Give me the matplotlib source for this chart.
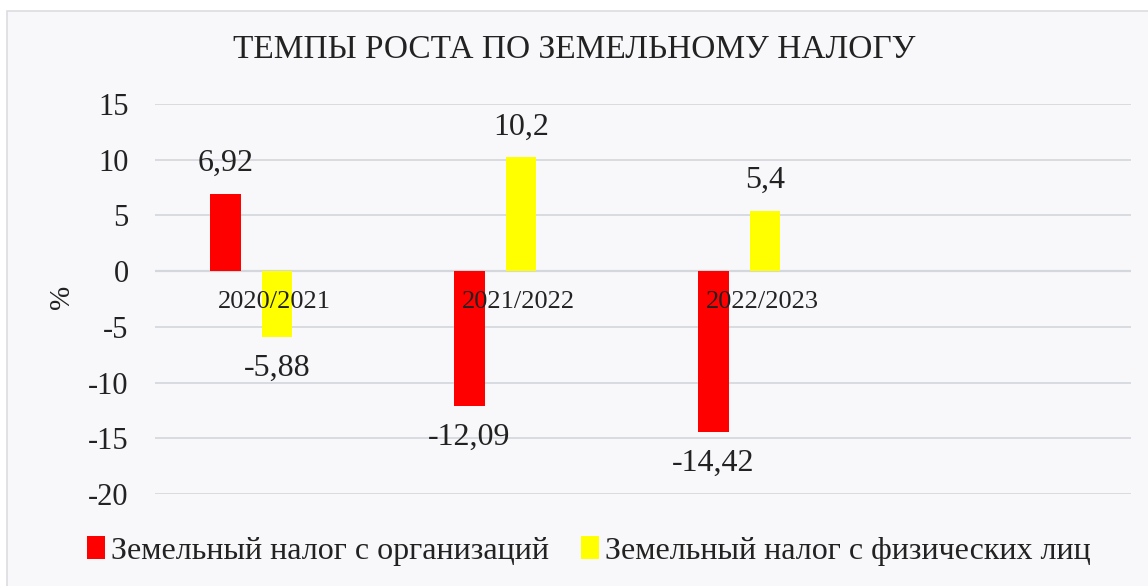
import matplotlib.pyplot as plt
import matplotlib.patches as mpatches
import numpy as np

periods = ['2020/2021', '2021/2022', '2022/2023']
org_tax = [6.92, -12.09, -14.42]
phys_tax = [-5.88, 10.2, 5.4]
org_labels = ['6,92', '-12,09', '-14,42']
phys_labels = ['-5,88', '10,2', '5,4']
series_names = ['Земельный налог с организаций', 'Земельный налог с физических лиц']

plt.rcParams['font.family'] = ['Liberation Serif', 'DejaVu Serif']
plt.rcParams['axes.unicode_minus'] = False

bg = '#f8f8fa'
fig = plt.figure(figsize=(11.48, 5.86), dpi=100)
fig.patch.set_facecolor('white')
# card background with thin border
card = mpatches.Rectangle((7 / 1148, -0.01), 1.02, (586 - 11) / 586 + 0.01,
                          transform=fig.transFigure, facecolor=bg,
                          edgecolor='#dcdde0', linewidth=1.2, zorder=-10)
fig.patches.append(card)

ax = fig.add_axes([155 / 1148, 92 / 586, (1131 - 155) / 1148, 390 / 586])
ax.set_facecolor(bg)

x = np.arange(len(periods)) + 0.5
w = 0.127
off = 0.212
b1 = ax.bar(x - off, org_tax, w, color='#ff0000', label=series_names[0], zorder=3)
b2 = ax.bar(x, phys_tax, w, color='#ffff00', label=series_names[1], zorder=3)

ax.set_xlim(0, 4)
ax.set_ylim(-20, 15)
ax.set_yticks(range(-20, 16, 5))
ax.grid(axis='y', color='#d5d8dd', linewidth=1.3, zorder=0)
ax.axhline(0, color='#d3d6db', linewidth=1.6, zorder=1)
ax.set_xticks([])
ax.tick_params(axis='y', length=0, labelsize=22, pad=19, labelcolor='#222222')
for s in ax.spines.values():
    s.set_visible(False)

for bars, labs in [(b1, org_labels), (b2, phys_labels)]:
    for bar, lab in zip(bars, labs):
        h = bar.get_height()
        ax.annotate(lab, (bar.get_x() + bar.get_width() / 2, h),
                    xytext=(0, 22 if h > 0 else -23), textcoords='offset points',
                    ha='center', va='center', fontsize=23, color='#222222', zorder=5)

for xi, p in zip(x, periods):
    ax.text(xi - 0.01, -2.8, p, ha='center', va='center', fontsize=19,
            color='#222222', zorder=5)

fig.text(62 / 1148, 1 - 297 / 586, '%', rotation=90, ha='center', va='center',
         fontsize=21, color='#222222')

fig.text(0.5, 1 - 50 / 586, 'ТЕМПЫ РОСТА ПО ЗЕМЕЛЬНОМУ НАЛОГУ', ha='center',
         va='center', fontsize=24, color='#222222')

leg = fig.legend(handles=[b1, b2], loc='center', bbox_to_anchor=(589 / 1148, 1 - 551 / 586),
                 ncol=2, frameon=False, fontsize=23, handlelength=0.55,
                 handleheight=0.75, handletextpad=0.2, columnspacing=1.0)
for t in leg.get_texts():
    t.set_color('#222222')

fig.savefig('out.png', dpi=100, facecolor=fig.get_facecolor())
